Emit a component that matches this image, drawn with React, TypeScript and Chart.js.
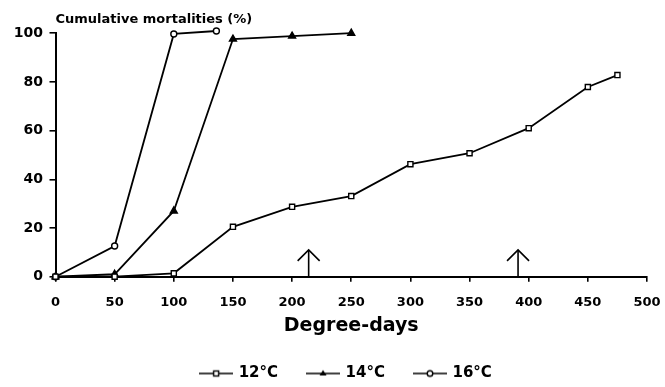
import React, { useEffect, useRef } from 'react';
import { Chart, registerables } from 'chart.js';

Chart.register(...registerables);

const degreeDays12 = [0, 50, 100, 150, 200, 250, 300, 350, 400, 450, 475];
const mortality12 = [0, 0, 1.4, 20.5, 28.7, 33.1, 46.2, 50.7, 61, 77.9, 82.8];
const degreeDays14 = [0, 50, 100, 150, 200, 250];
const mortality14 = [0, 1, 27, 97.6, 98.8, 100];
const degreeDays16 = [0, 50, 100, 136];
const mortality16 = [0, 12.6, 99.7, 100.9];
const seriesLabels = ['12°C', '14°C', '16°C'];
const arrowDegreeDays = [214, 391];
const arrowTopValue = 11;
const yAxisTitle = 'Cumulative mortalities (%)';
const xAxisTitle = 'Degree-days';

const FONT = 'DejaVu Sans';

function makeIcon(kind: string): HTMLCanvasElement {
  const c = document.createElement('canvas');
  c.width = 34;
  c.height = 12;
  const ctx = c.getContext('2d')!;
  ctx.strokeStyle = '#000';
  ctx.fillStyle = '#000';
  ctx.lineWidth = 1.6;
  ctx.beginPath();
  ctx.moveTo(0, 6);
  ctx.lineTo(34, 6);
  ctx.stroke();
  ctx.lineWidth = 1.4;
  if (kind === 'rect') {
    ctx.fillStyle = '#fff';
    ctx.fillRect(14.5, 3.5, 5, 5);
    ctx.strokeRect(14.5, 3.5, 5, 5);
  } else if (kind === 'triangle') {
    ctx.beginPath();
    ctx.moveTo(17, 2.5);
    ctx.lineTo(20.5, 8);
    ctx.lineTo(13.5, 8);
    ctx.closePath();
    ctx.fill();
  } else {
    ctx.fillStyle = '#fff';
    ctx.beginPath();
    ctx.arc(17, 6, 2.8, 0, Math.PI * 2);
    ctx.fill();
    ctx.stroke();
  }
  return c;
}

const overlayPlugin = {
  id: 'overlay',
  afterLayout(chart: any) {
    // shift the centred legend row to sit where the reference places it
    if (chart.legend) {
      chart.legend.left += 46;
    }
  },
  afterDatasetsDraw(chart: any) {
    const { ctx, scales } = chart;
    const x = scales.x;
    const y = scales.y;
    ctx.save();
    ctx.strokeStyle = '#000';
    ctx.lineWidth = 1.6;
    arrowDegreeDays.forEach((d) => {
      const px = x.getPixelForValue(d);
      const top = y.getPixelForValue(arrowTopValue);
      const bottom = y.getPixelForValue(0);
      ctx.beginPath();
      ctx.moveTo(px, bottom);
      ctx.lineTo(px, top);
      ctx.stroke();
      ctx.beginPath();
      ctx.moveTo(px - 11, top + 11);
      ctx.lineTo(px, top);
      ctx.lineTo(px + 11, top + 11);
      ctx.stroke();
    });
    ctx.restore();
  },
  afterDraw(chart: any) {
    const { ctx, chartArea } = chart;
    ctx.save();
    ctx.fillStyle = '#000';
    ctx.font = `bold 13px "${FONT}"`;
    ctx.textAlign = 'left';
    ctx.textBaseline = 'middle';
    ctx.fillText(yAxisTitle, chartArea.left, 20);
    ctx.restore();
  },
};

export default function App() {
  const ref = useRef<HTMLCanvasElement | null>(null);

  useEffect(() => {
    if (!ref.current) return;
    const icons = [makeIcon('rect'), makeIcon('triangle'), makeIcon('circle')];
    const toPoints = (xs: number[], ys: number[]) => xs.map((v, i) => ({ x: v, y: ys[i] }));
    const common = {
      borderColor: '#000',
      backgroundColor: '#000',
      borderWidth: 1.8,
      pointBorderColor: '#000',
      pointBorderWidth: 1.4,
      showLine: true,
      tension: 0,
      clip: false as const,
    };
    const chart = new Chart(ref.current, {
      type: 'scatter',
      data: {
        datasets: [
          {
            ...common,
            label: seriesLabels[0],
            data: toPoints(degreeDays12, mortality12),
            pointStyle: 'rect',
            pointRadius: 3.6,
            pointBackgroundColor: '#fff',
          },
          {
            ...common,
            label: seriesLabels[1],
            data: toPoints(degreeDays14, mortality14),
            pointStyle: 'triangle',
            pointRadius: 4,
            pointBackgroundColor: '#000',
          },
          {
            ...common,
            label: seriesLabels[2],
            data: toPoints(degreeDays16, mortality16),
            pointStyle: 'circle',
            pointRadius: 3,
            pointBackgroundColor: '#fff',
          },
        ],
      },
      options: {
        animation: false,
        responsive: false,
        events: [],
        layout: { padding: { left: 0, right: 18, top: 33.2, bottom: -4 } },
        scales: {
          x: {
            type: 'linear',
            min: 0,
            max: 500,
            afterFit: (s: any) => {
              s.height = 59.3;
              s.paddingLeft = 0;
              s.paddingRight = 0;
            },
            ticks: {
              stepSize: 50,
              color: '#000',
              padding: 13,
              maxRotation: 0,
              font: { family: FONT, size: 13, weight: 'bold' },
            },
            grid: {
              display: true,
              drawOnChartArea: false,
              drawTicks: true,
              tickLength: 5,
              color: '#000',
              lineWidth: 1.6,
            },
            border: { display: true, color: '#000', width: 2 },
            title: {
              display: true,
              text: xAxisTitle,
              color: '#000',
              font: { family: FONT, size: 19, weight: 'bold', lineHeight: 1 },
              padding: { top: 0, bottom: 0 },
            },
          },
          y: {
            type: 'linear',
            min: 0,
            max: 100,
            afterFit: (s: any) => {
              s.width = 55.5;
              s.paddingTop = 0;
              s.paddingBottom = 0;
            },
            ticks: {
              stepSize: 20,
              color: '#000',
              padding: 6.5,
              font: { family: FONT, size: 14, weight: 'bold' },
            },
            grid: {
              display: true,
              drawOnChartArea: false,
              drawTicks: true,
              tickLength: 6,
              color: '#000',
              lineWidth: 1.6,
            },
            border: { display: true, color: '#000', width: 2 },
          },
        },
        plugins: {
          tooltip: { enabled: false },
          title: { display: false },
          legend: {
            display: true,
            position: 'bottom',
            labels: {
              usePointStyle: true,
              pointStyleWidth: 30,
              padding: 30,
              color: '#000',
              font: { family: FONT, size: 15, weight: 'bold' },
              generateLabels: (c: any) =>
                c.data.datasets.map((ds: any, i: number) => ({
                  text: ds.label,
                  pointStyle: icons[i],
                  fillStyle: '#000',
                  strokeStyle: '#000',
                  lineWidth: 0,
                  hidden: false,
                  datasetIndex: i,
                  fontColor: '#000',
                })),
            },
          },
        },
      } as any,
      plugins: [overlayPlugin],
    });
    return () => chart.destroy();
  }, []);

  return (
    <div style={{ position: 'fixed', left: 0, top: 0, width: 665, height: 387, background: '#fff' }}>
      <canvas ref={ref} width={665} height={387} style={{ display: 'block' }} />
    </div>
  );
}
